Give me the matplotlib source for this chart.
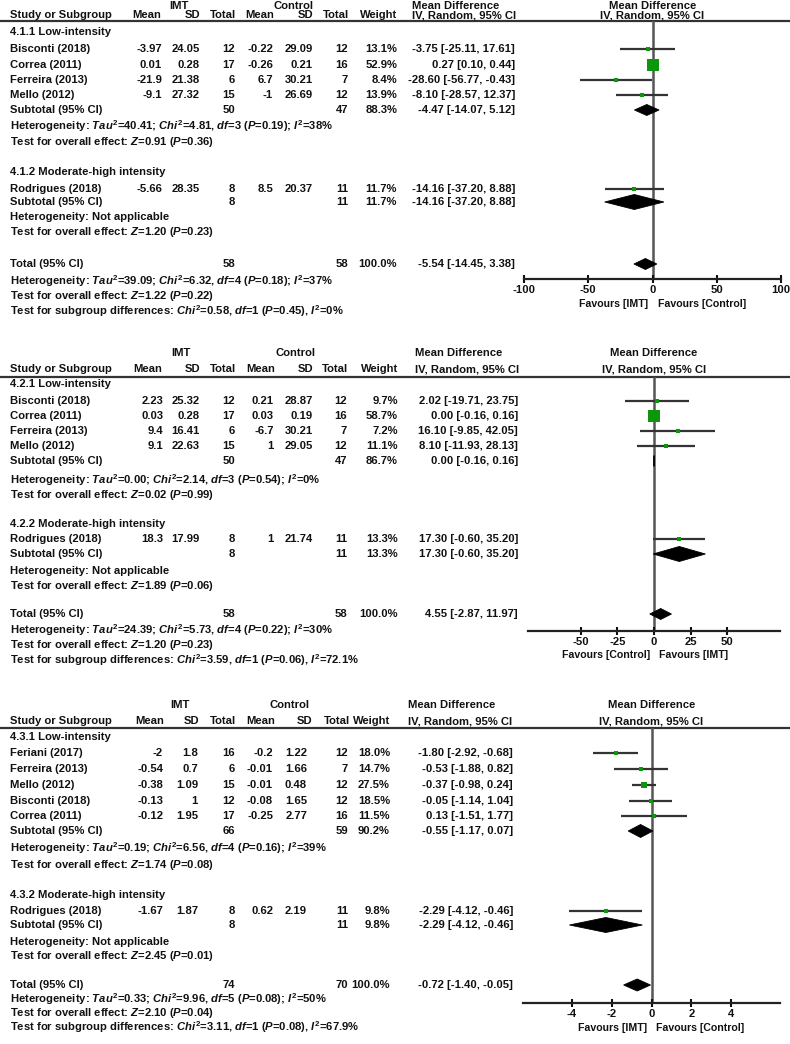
import matplotlib
matplotlib.use("Agg")
import matplotlib.pyplot as plt

plt.rcParams['font.family'] = ['Liberation Sans', 'DejaVu Sans']
plt.rcParams['font.weight'] = 'bold'
plt.rcParams['axes.unicode_minus'] = False
plt.rcParams['mathtext.fontset'] = 'custom'
plt.rcParams['mathtext.rm'] = 'Liberation Sans:bold'
plt.rcParams['mathtext.it'] = 'Liberation Sans:italic:bold'
plt.rcParams['mathtext.bf'] = 'Liberation Sans:bold'

# ---------------- Analysis 4.1 ----------------
a1_low_names = ["Bisconti (2018)", "Correa (2011)", "Ferreira (2013)", "Mello (2012)"]
a1_low_imt_mean = [-3.97, 0.01, -21.9, -9.1]
a1_low_imt_sd = [24.05, 0.28, 21.38, 27.32]
a1_low_imt_n = [12, 17, 6, 15]
a1_low_ctl_mean = [-0.22, -0.26, 6.7, -1]
a1_low_ctl_sd = [29.09, 0.21, 30.21, 26.69]
a1_low_ctl_n = [12, 16, 7, 12]
a1_low_weight = [13.1, 52.9, 8.4, 13.9]
a1_low_md = [-3.75, 0.27, -28.60, -8.10]
a1_low_lo = [-25.11, 0.10, -56.77, -28.57]
a1_low_hi = [17.61, 0.44, -0.43, 12.37]
a1_low_sub = [50, 47, 88.3, -4.47, -14.07, 5.12]
a1_mod_names = ["Rodrigues (2018)"]
a1_mod_imt_mean = [-5.66]
a1_mod_imt_sd = [28.35]
a1_mod_imt_n = [8]
a1_mod_ctl_mean = [8.5]
a1_mod_ctl_sd = [20.37]
a1_mod_ctl_n = [11]
a1_mod_weight = [11.7]
a1_mod_md = [-14.16]
a1_mod_lo = [-37.20]
a1_mod_hi = [8.88]
a1_mod_sub = [8, 11, 11.7, -14.16, -37.20, 8.88]
a1_total = [58, 58, 100.0, -5.54, -14.45, 3.38]
a1_ticks = [-100, -50, 0, 50, 100]
a1_favours = ["Favours [IMT]", "Favours [Control]"]
a1_titles = ["4.1.1 Low-intensity", "4.1.2 Moderate-high intensity"]
a1_het = [r"Heterogeneity: $Tau^2$=40.41; $Chi^2$=4.81, $df$=3 ($P$=0.19); $I^2$=38%",
          "Heterogeneity: Not applicable"]
a1_test = [r"Test for overall effect: $Z$=0.91 ($P$=0.36)",
           r"Test for overall effect: $Z$=1.20 ($P$=0.23)"]
a1_total_text = [r"Heterogeneity: $Tau^2$=39.09; $Chi^2$=6.32, $df$=4 ($P$=0.18); $I^2$=37%",
                 r"Test for overall effect: $Z$=1.22 ($P$=0.22)",
                 r"Test for subgroup differences: $Chi^2$=0.58, $df$=1 ($P$=0.45), $I^2$=0%"]

# ---------------- Analysis 4.2 ----------------
a2_low_names = ["Bisconti (2018)", "Correa (2011)", "Ferreira (2013)", "Mello (2012)"]
a2_low_imt_mean = [2.23, 0.03, 9.4, 9.1]
a2_low_imt_sd = [25.32, 0.28, 16.41, 22.63]
a2_low_imt_n = [12, 17, 6, 15]
a2_low_ctl_mean = [0.21, 0.03, -6.7, 1]
a2_low_ctl_sd = [28.87, 0.19, 30.21, 29.05]
a2_low_ctl_n = [12, 16, 7, 12]
a2_low_weight = [9.7, 58.7, 7.2, 11.1]
a2_low_md = [2.02, 0.00, 16.10, 8.10]
a2_low_lo = [-19.71, -0.16, -9.85, -11.93]
a2_low_hi = [23.75, 0.16, 42.05, 28.13]
a2_low_sub = [50, 47, 86.7, 0.00, -0.16, 0.16]
a2_mod_names = ["Rodrigues (2018)"]
a2_mod_imt_mean = [18.3]
a2_mod_imt_sd = [17.99]
a2_mod_imt_n = [8]
a2_mod_ctl_mean = [1]
a2_mod_ctl_sd = [21.74]
a2_mod_ctl_n = [11]
a2_mod_weight = [13.3]
a2_mod_md = [17.30]
a2_mod_lo = [-0.60]
a2_mod_hi = [35.20]
a2_mod_sub = [8, 11, 13.3, 17.30, -0.60, 35.20]
a2_total = [58, 58, 100.0, 4.55, -2.87, 11.97]
a2_ticks = [-50, -25, 0, 25, 50]
a2_favours = ["Favours [Control]", "Favours [IMT]"]
a2_titles = ["4.2.1 Low-intensity", "4.2.2 Moderate-high intensity"]
a2_het = [r"Heterogeneity: $Tau^2$=0.00; $Chi^2$=2.14, $df$=3 ($P$=0.54); $I^2$=0%",
          "Heterogeneity: Not applicable"]
a2_test = [r"Test for overall effect: $Z$=0.02 ($P$=0.99)",
           r"Test for overall effect: $Z$=1.89 ($P$=0.06)"]
a2_total_text = [r"Heterogeneity: $Tau^2$=24.39; $Chi^2$=5.73, $df$=4 ($P$=0.22); $I^2$=30%",
                 r"Test for overall effect: $Z$=1.20 ($P$=0.23)",
                 r"Test for subgroup differences: $Chi^2$=3.59, $df$=1 ($P$=0.06), $I^2$=72.1%"]

# ---------------- Analysis 4.3 ----------------
a3_low_names = ["Feriani (2017)", "Ferreira (2013)", "Mello (2012)", "Bisconti (2018)", "Correa (2011)"]
a3_low_imt_mean = [-2, -0.54, -0.38, -0.13, -0.12]
a3_low_imt_sd = [1.8, 0.7, 1.09, 1, 1.95]
a3_low_imt_n = [16, 6, 15, 12, 17]
a3_low_ctl_mean = [-0.2, -0.01, -0.01, -0.08, -0.25]
a3_low_ctl_sd = [1.22, 1.66, 0.48, 1.65, 2.77]
a3_low_ctl_n = [12, 7, 12, 12, 16]
a3_low_weight = [18.0, 14.7, 27.5, 18.5, 11.5]
a3_low_md = [-1.80, -0.53, -0.37, -0.05, 0.13]
a3_low_lo = [-2.92, -1.88, -0.98, -1.14, -1.51]
a3_low_hi = [-0.68, 0.82, 0.24, 1.04, 1.77]
a3_low_sub = [66, 59, 90.2, -0.55, -1.17, 0.07]
a3_mod_names = ["Rodrigues (2018)"]
a3_mod_imt_mean = [-1.67]
a3_mod_imt_sd = [1.87]
a3_mod_imt_n = [8]
a3_mod_ctl_mean = [0.62]
a3_mod_ctl_sd = [2.19]
a3_mod_ctl_n = [11]
a3_mod_weight = [9.8]
a3_mod_md = [-2.29]
a3_mod_lo = [-4.12]
a3_mod_hi = [-0.46]
a3_mod_sub = [8, 11, 9.8, -2.29, -4.12, -0.46]
a3_total = [74, 70, 100.0, -0.72, -1.40, -0.05]
a3_ticks = [-4, -2, 0, 2, 4]
a3_favours = ["Favours [IMT]", "Favours [Control]"]
a3_titles = ["4.3.1 Low-intensity", "4.3.2 Moderate-high intensity"]
a3_het = [r"Heterogeneity: $Tau^2$=0.19; $Chi^2$=6.56, $df$=4 ($P$=0.16); $I^2$=39%",
          "Heterogeneity: Not applicable"]
a3_test = [r"Test for overall effect: $Z$=1.74 ($P$=0.08)",
           r"Test for overall effect: $Z$=2.45 ($P$=0.01)"]
a3_total_text = [r"Heterogeneity: $Tau^2$=0.33; $Chi^2$=9.96, $df$=5 ($P$=0.08); $I^2$=50%",
                 r"Test for overall effect: $Z$=2.10 ($P$=0.04)",
                 r"Test for subgroup differences: $Chi^2$=3.11, $df$=1 ($P$=0.08), $I^2$=67.9%"]


def group(names, im, isd, ino, cm, csd, cn, w, md, lo, hi):
    return dict(names=names, im=im, isd=isd, ino=ino, cm=cm, csd=csd, cn=cn, w=w, md=md, lo=lo, hi=hi)


P1 = dict(groups=[group(a1_low_names, a1_low_imt_mean, a1_low_imt_sd, a1_low_imt_n, a1_low_ctl_mean,
                        a1_low_ctl_sd, a1_low_ctl_n, a1_low_weight, a1_low_md, a1_low_lo, a1_low_hi),
                  group(a1_mod_names, a1_mod_imt_mean, a1_mod_imt_sd, a1_mod_imt_n, a1_mod_ctl_mean,
                        a1_mod_ctl_sd, a1_mod_ctl_n, a1_mod_weight, a1_mod_md, a1_mod_lo, a1_mod_hi)],
          subs=[a1_low_sub, a1_mod_sub], total=a1_total, ticks=a1_ticks, favours=a1_favours,
          titles=a1_titles, het=a1_het, test=a1_test, total_text=a1_total_text)
P2 = dict(groups=[group(a2_low_names, a2_low_imt_mean, a2_low_imt_sd, a2_low_imt_n, a2_low_ctl_mean,
                        a2_low_ctl_sd, a2_low_ctl_n, a2_low_weight, a2_low_md, a2_low_lo, a2_low_hi),
                  group(a2_mod_names, a2_mod_imt_mean, a2_mod_imt_sd, a2_mod_imt_n, a2_mod_ctl_mean,
                        a2_mod_ctl_sd, a2_mod_ctl_n, a2_mod_weight, a2_mod_md, a2_mod_lo, a2_mod_hi)],
          subs=[a2_low_sub, a2_mod_sub], total=a2_total, ticks=a2_ticks, favours=a2_favours,
          titles=a2_titles, het=a2_het, test=a2_test, total_text=a2_total_text)
P3 = dict(groups=[group(a3_low_names, a3_low_imt_mean, a3_low_imt_sd, a3_low_imt_n, a3_low_ctl_mean,
                        a3_low_ctl_sd, a3_low_ctl_n, a3_low_weight, a3_low_md, a3_low_lo, a3_low_hi),
                  group(a3_mod_names, a3_mod_imt_mean, a3_mod_imt_sd, a3_mod_imt_n, a3_mod_ctl_mean,
                        a3_mod_ctl_sd, a3_mod_ctl_n, a3_mod_weight, a3_mod_md, a3_mod_lo, a3_mod_hi)],
          subs=[a3_low_sub, a3_mod_sub], total=a3_total, ticks=a3_ticks, favours=a3_favours,
          titles=a3_titles, het=a3_het, test=a3_test, total_text=a3_total_text)

# ---------------- layout (pixels) ----------------
L1 = dict(grp_y=6, hdr_y=15, rule_y=21, axis_y=279, fav_y=304,
          titles=[32, 172], rows=[[49, 65, 80, 95], [189]], subs=[110, 202], hets=[126, 217],
          tests=[142, 232], total_y=264, ttext=[281, 296, 311],
          cols=[162, 200, 235, 273, 313, 348, 397], hcols=[161, 200, 236, 274, 313, 349, 397],
          md_x=515, mdh_x=412, imt_x=179, ctl_x=294,
          x0=524, x1=781, xlim=(-100, 100), zero=652.5, dh=[11, 15], th=11, sq=0.21)
L2 = dict(grp_y=353, hdr_y=369, rule_y=377, axis_y=631, fav_y=655,
          titles=[384, 524], rows=[[401, 416, 431, 446], [539]], subs=[461, 554], hets=[480, 571],
          tests=[495, 586], total_y=614, ttext=[630, 645, 660],
          cols=[163, 200, 235, 274, 313, 347, 398], hcols=[162, 200, 236, 275, 313, 348, 398],
          md_x=518, mdh_x=415, imt_x=181, ctl_x=295,
          x0=528, x1=780, xlim=(-86.3, 86.3), zero=654, dh=[11, 15], th=11, sq=0.21)
L3 = dict(grp_y=705, hdr_y=721, rule_y=728, axis_y=1003, fav_y=1028,
          titles=[737, 895], rows=[[753, 769, 785, 801, 816], [911]], subs=[831, 925], hets=[848, 942],
          tests=[865, 956], total_y=985, ttext=[999, 1013, 1027],
          cols=[163, 198, 235, 273, 307, 348, 390], hcols=[164, 199, 236, 275, 312, 350, 390],
          md_x=513, mdh_x=408, imt_x=180, ctl_x=290,
          x0=523, x1=780, xlim=(-6.45, 6.45), zero=651.5, dh=[13, 15], th=12, sq=0.21)

W, H = 790, 1044
FS = 8.1
GREEN = '#0c960c'
fig = plt.figure(figsize=(W / 100, H / 100), dpi=100)
ax = fig.add_axes([0, 0, 1, 1])
ax.set_xlim(0, W)
ax.set_ylim(H, 0)
ax.axis('off')


def num(v):
    return f"{v:g}"


def mdtxt(m, lo, hi):
    return f"{m:.2f} [{lo:.2f}, {hi:.2f}]"


def T(x, y, s, ha='left', **kw):
    ax.text(x, y, s, ha=ha, va='center', fontsize=kw.pop('fs', FS), color='#111111', **kw)


def diamond(fa, y, m, lo, hi, h):
    fa.fill([lo, m, hi, m], [y, y - h / 2, y, y + h / 2], color='black', lw=0.6, ec='black', zorder=4)


def draw_panel(P, L):
    c = L['cols']
    # headers
    T(L['imt_x'], L['grp_y'], 'IMT', ha='center')
    T(L['ctl_x'], L['grp_y'], 'Control', ha='center')
    T(L['mdh_x'], L['grp_y'], 'Mean Difference')
    T(L['zero'], L['grp_y'], 'Mean Difference', ha='center')
    T(10, L['hdr_y'], 'Study or Subgroup')
    for x, t in zip(L['hcols'], ['Mean', 'SD', 'Total', 'Mean', 'SD', 'Total', 'Weight']):
        T(x, L['hdr_y'], t, ha='right')
    T(L['mdh_x'], L['hdr_y'], 'IV, Random, 95% CI')
    T(L['zero'], L['hdr_y'], 'IV, Random, 95% CI', ha='center')
    ax.hlines(L['rule_y'], 0, W, color='#333333', lw=1.6)

    # forest axes
    fa = fig.add_axes([L['x0'] / W, 1 - L['axis_y'] / H, (L['x1'] - L['x0']) / W,
                       (L['axis_y'] - L['rule_y']) / H])
    fa.set_xlim(*L['xlim'])
    fa.set_ylim(L['axis_y'], L['rule_y'])
    fa.patch.set_alpha(0)
    for s in ['top', 'right', 'left']:
        fa.spines[s].set_visible(False)
    fa.spines['bottom'].set_linewidth(1.6)
    fa.spines['bottom'].set_color('#222222')
    fa.set_yticks([])
    fa.set_xticks(P['ticks'])
    fa.set_xticklabels([num(t) for t in P['ticks']])
    fa.tick_params(axis='x', direction='inout', length=6, width=1.5, pad=1.2,
                   labelsize=FS, colors='#111111')
    fa.axvline(0, color='#555555', lw=1.8, zorder=1)

    for gi, g in enumerate(P['groups']):
        T(10, L['titles'][gi], P['titles'][gi])
        for k, y in enumerate(L['rows'][gi]):
            T(10, y, g['names'][k])
            vals = [num(g['im'][k]), num(g['isd'][k]), str(g['ino'][k]), num(g['cm'][k]),
                    num(g['csd'][k]), str(g['cn'][k]), f"{g['w'][k]:.1f}%"]
            for x, v in zip(c, vals):
                T(x, y, v, ha='right')
            T(L['md_x'], y, mdtxt(g['md'][k], g['lo'][k], g['hi'][k]), ha='right')
            fa.hlines(y, g['lo'][k], g['hi'][k], color='#333333', lw=1.6, zorder=2)
            side = max(L['sq'] * g['w'][k], 3.6) * 0.72
            fa.scatter([g['md'][k]], [y], s=side ** 2, marker='s', color=GREEN, lw=0, zorder=3)
        sb = P['subs'][gi]
        y = L['subs'][gi]
        T(10, y, 'Subtotal (95% CI)')
        T(c[2], y, str(sb[0]), ha='right')
        T(c[5], y, str(sb[1]), ha='right')
        T(c[6], y, f"{sb[2]:.1f}%", ha='right')
        T(L['md_x'], y, mdtxt(sb[3], sb[4], sb[5]), ha='right')
        diamond(fa, y, sb[3], sb[4], sb[5], L['dh'][gi])
        T(10, L['hets'][gi], P['het'][gi])
        T(10, L['tests'][gi], P['test'][gi])

    tt = P['total']
    y = L['total_y']
    T(10, y, 'Total (95% CI)')
    T(c[2], y, str(tt[0]), ha='right')
    T(c[5], y, str(tt[1]), ha='right')
    T(c[6], y, f"{tt[2]:.1f}%", ha='right')
    T(L['md_x'], y, mdtxt(tt[3], tt[4], tt[5]), ha='right')
    diamond(fa, y, tt[3], tt[4], tt[5], L['th'])
    for yy, s in zip(L['ttext'], P['total_text']):
        T(10, yy, s)
    T(L['zero'] - 4, L['fav_y'], P['favours'][0], ha='right', fs=7.6)
    T(L['zero'] + 5, L['fav_y'], P['favours'][1], ha='left', fs=7.6)


draw_panel(P1, L1)
draw_panel(P2, L2)
draw_panel(P3, L3)

fig.savefig('out.png', dpi=100)
